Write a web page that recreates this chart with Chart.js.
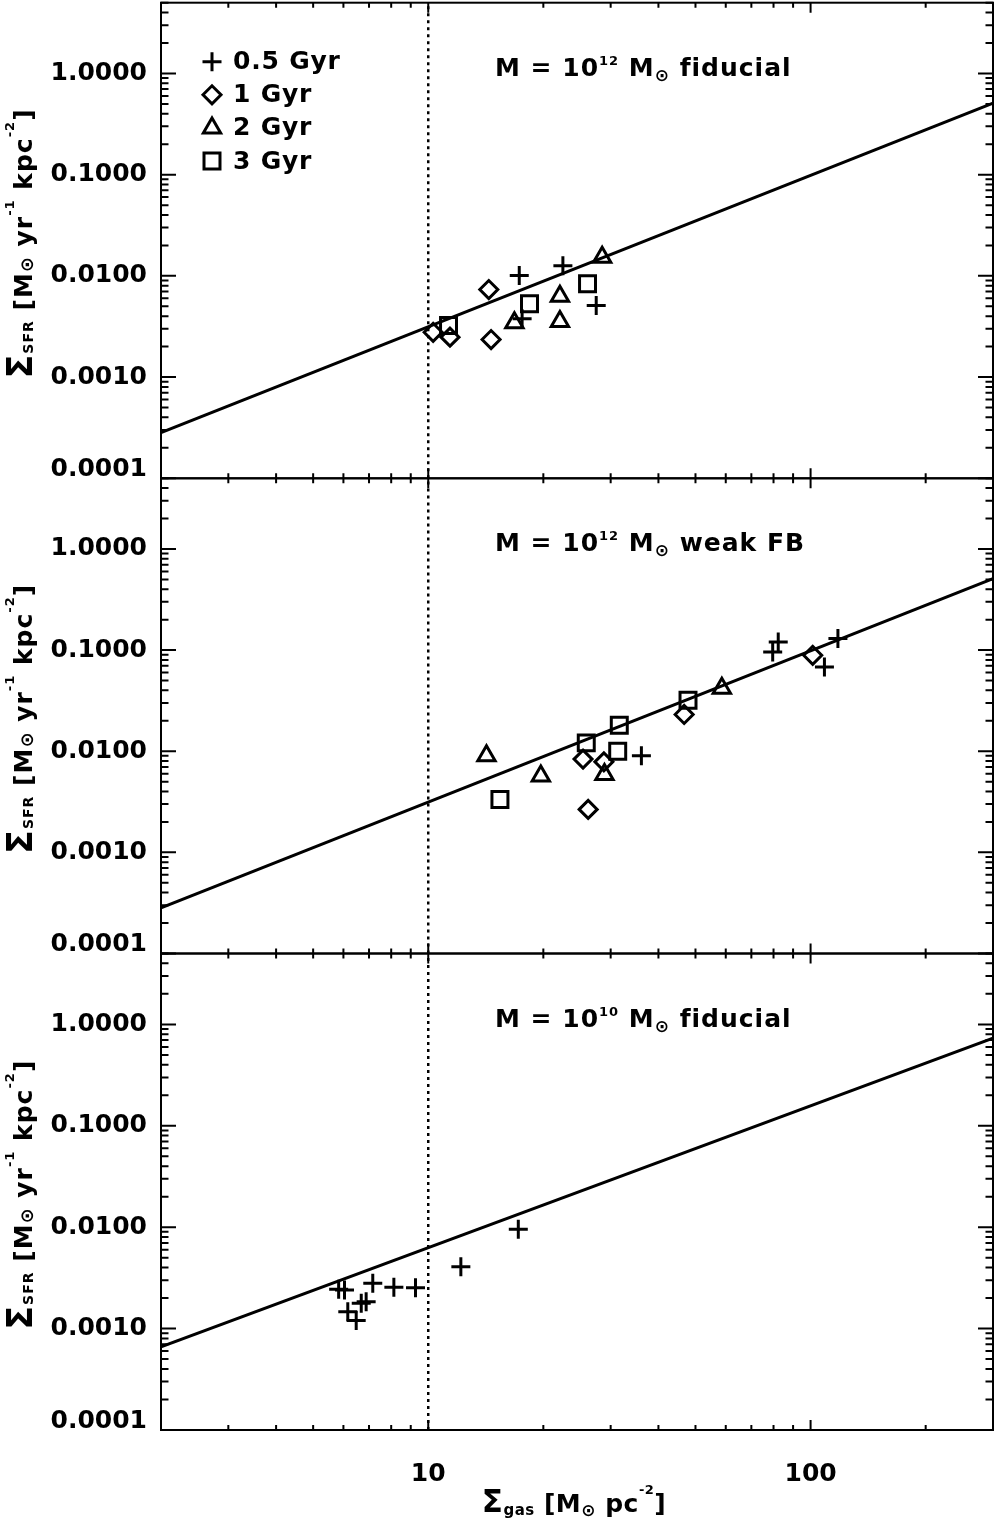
<!DOCTYPE html>
<html><head><meta charset="utf-8">
<script src="https://cdn.jsdelivr.net/npm/chart.js@4.4.1/dist/chart.umd.min.js"></script>
<style>
html,body{margin:0;padding:0;background:#fff;}
#wrap{position:relative;width:998px;height:1523px;overflow:hidden;background:#fff}
canvas{position:absolute;left:0;top:0}
</style></head><body><div id="wrap">
<canvas id="c1" width="998" height="1523"></canvas>
<canvas id="c2" width="998" height="1523"></canvas>
<canvas id="c3" width="998" height="1523"></canvas>
</div>
<script>
// ---------- axis setup ----------
const xMin = 2, xMax = 300;
const yMin = 1e-4, yMax = 5;
const yTickValues = [1e-4, 1e-3, 1e-2, 1e-1, 1];
const yTickLabels = ['0.0001', '0.0010', '0.0100', '0.1000', '1.0000'];
const xTickValues = [10, 100];
const xTickLabels = ['10', '100'];
const ageLabels = ['0.5 Gyr', '1 Gyr', '2 Gyr', '3 Gyr'];
const gasThreshold = 10;
const panelMassExp = ['12', '12', '10'];
const panelModel = ['fiducial', 'weak FB', 'fiducial'];

// ---------- panel 1 : M = 10^12 fiducial ----------
const p1Gas05 = [17.3, 17.6, 22.5, 27.5];
const p1Sfr05 = [0.0101, 0.00376, 0.0126, 0.0051];
const p1Gas1 = [10.3, 11.4, 14.4, 14.6];
const p1Sfr1 = [0.00277, 0.00248, 0.00733, 0.00235];
const p1Gas2 = [16.8, 22.1, 22.1, 28.5];
const p1Sfr2 = [0.00344, 0.00629, 0.00354, 0.0153];
const p1Gas3 = [11.3, 18.4, 26.1];
const p1Sfr3 = [0.00323, 0.0053, 0.00834];
const p1LineGas = [2, 300];
const p1LineSfr = [2.82e-4, 0.51];

// ---------- panel 2 : M = 10^12 weak FB ----------
const p2Gas05 = [36.1, 79.6, 82.3, 108.7, 117.9];
const p2Sfr05 = [0.0090, 0.0958, 0.120, 0.068, 0.130];
const p2Gas1 = [25.4, 26.2, 28.8, 46.7, 101.3];
const p2Sfr1 = [0.00836, 0.00266, 0.00786, 0.0231, 0.0889];
const p2Gas2 = [14.2, 19.7, 28.9, 58.6];
const p2Sfr2 = [0.00901, 0.00568, 0.0059, 0.042];
const p2Gas3 = [15.4, 25.9, 31.3, 31.6, 47.8];
const p2Sfr3 = [0.00334, 0.0121, 0.0100, 0.0181, 0.0319];
const p2LineGas = [2, 300];
const p2LineSfr = [2.82e-4, 0.51];

// ---------- panel 3 : M = 10^10 fiducial ----------
const p3Gas05 = [5.83, 6.04, 6.16, 6.48, 6.68, 6.88, 7.16, 8.13, 9.26, 12.17, 17.2];
const p3Sfr05 = [0.00244, 0.0024, 0.00147, 0.0012, 0.00178, 0.00184, 0.0028, 0.00255, 0.00253, 0.00408, 0.00953];
const p3LineGas = [2, 300];
const p3LineSfr = [6.6e-4, 0.73];

const FONT = 'DejaVu Sans';
const markerStyles = [
  {pointStyle: 'cross', pointRadius: 9.5},
  {pointStyle: 'rectRot', pointRadius: 9},
  {pointStyle: 'triangle', pointRadius: 10},
  {pointStyle: 'rect', pointRadius: 11.3}
];

function pts(xs, ys) { return xs.map((v, i) => ({x: v, y: ys[i]})); }
function scatterSet(ageIdx, xs, ys) {
  const st = markerStyles[ageIdx];
  return {label: ageLabels[ageIdx], data: pts(xs, ys), pointStyle: st.pointStyle, pointRadius: st.pointRadius,
    borderColor: '#000', backgroundColor: 'rgba(0,0,0,0)', borderWidth: 3, pointBorderWidth: 3, showLine: false};
}
function lineSet(xs, ys) {
  return {label: '', data: pts(xs, ys), showLine: true, borderColor: '#000', borderWidth: 3, pointRadius: 0, fill: false};
}
function thresholdSet() {
  return {label: '', data: pts([gasThreshold, gasThreshold], [yMin, yMax]), showLine: true, borderColor: '#000',
    borderWidth: 2.5, borderDash: [3, 4], pointRadius: 0, fill: false};
}

// rich text: segments {t, s, dy}
function fontStr(s) { return 'bold ' + s + 'px "' + FONT + '"'; }
function richWidth(ctx, segs, ls) {
  let w = 0;
  segs.forEach(g => { ctx.font = fontStr(g.s); ctx.letterSpacing = ls + 'px'; w += ctx.measureText(g.t).width; });
  return w;
}
function drawRich(ctx, segs, x, y, align, ls) {
  const w = richWidth(ctx, segs, ls);
  let cx = align === 'center' ? x - w / 2 : x;
  ctx.textBaseline = 'alphabetic'; ctx.textAlign = 'left'; ctx.fillStyle = '#000';
  segs.forEach(g => {
    ctx.font = fontStr(g.s);
    ctx.letterSpacing = ls + 'px';
    ctx.fillText(g.t, cx, y + (g.dy || 0));
    cx += ctx.measureText(g.t).width;
  });
}

const yTitleSegs = [
  {t: 'Σ', s: 35}, {t: 'SFR', s: 14, dy: 1}, {t: ' [M', s: 25}, {t: '⊙', s: 18, dy: 1},
  {t: ' yr', s: 25}, {t: '-1', s: 13, dy: -18}, {t: ' kpc', s: 25}, {t: '-2', s: 13, dy: -18}, {t: ']', s: 25}
];
const xTitleSegs = [
  {t: 'Σ', s: 31}, {t: 'gas', s: 15, dy: 3}, {t: ' [M', s: 25}, {t: '⊙', s: 17, dy: 4},
  {t: ' pc', s: 25}, {t: '-2', s: 13, dy: -18}, {t: ']', s: 25}
];

const framePlugin = {
  id: 'frame',
  beforeDatasetsDraw(chart) {
    const {ctx, chartArea: a, scales: {x, y}} = chart;
    ctx.save();
    ctx.strokeStyle = '#000'; ctx.lineWidth = 2; ctx.lineCap = 'butt';
    ctx.strokeRect(a.left, a.top, a.right - a.left, a.bottom - a.top);
    ctx.beginPath();
    for (let d = -4; d <= 0; d++) for (let m = 1; m <= 9; m++) {
      const v = m * Math.pow(10, d);
      if (v < yMin * 0.999 || v > yMax * 1.001) continue;
      const py = y.getPixelForValue(v);
      const L = m === 1 ? 15 : 7.5;
      ctx.moveTo(a.left, py); ctx.lineTo(a.left + L, py);
      ctx.moveTo(a.right, py); ctx.lineTo(a.right - L, py);
    }
    for (let d = 0; d <= 2; d++) for (let m = 1; m <= 9; m++) {
      const v = m * Math.pow(10, d);
      if (v < xMin * 0.999 || v > xMax * 1.001) continue;
      const px = x.getPixelForValue(v);
      const L = m === 1 ? 10 : 5;
      ctx.moveTo(px, a.bottom); ctx.lineTo(px, a.bottom - L);
      ctx.moveTo(px, a.top); ctx.lineTo(px, a.top + L);
    }
    ctx.stroke();
    ctx.restore();
  },
  afterDraw(chart, args, opts) {
    const {ctx, chartArea: a} = chart;
    ctx.save();
    // panel annotation
    const segs = [
      {t: 'M = 10', s: 25}, {t: panelMassExp[opts.panel], s: 13, dy: -11},
      {t: ' M', s: 25}, {t: '⊙', s: 17, dy: 5}, {t: ' ' + panelModel[opts.panel], s: 25}
    ];
    drawRich(ctx, segs, a.left + 334, a.top + 73, 'left', 1);
    // y title
    ctx.save();
    ctx.translate(32, (a.top + a.bottom) / 2 + 3);
    ctx.rotate(-Math.PI / 2);
    drawRich(ctx, yTitleSegs, 0, 0, 'center', 1);
    ctx.restore();
    // x title
    if (opts.xTitle) {
      drawRich(ctx, xTitleSegs, (a.left + a.right) / 2 - 3, 1512, 'center', 0.5);
    }
    // legend
    if (opts.legend) {
      let row = 0;
      chart.data.datasets.forEach(ds => {
        if (!ds.label) return;
        const cy = a.top + 59 + row * 33.1;
        const cx = a.left + 51;
        ctx.strokeStyle = '#000'; ctx.fillStyle = 'rgba(0,0,0,0)'; ctx.lineWidth = 3;
        Chart.helpers.drawPoint(ctx, {pointStyle: ds.pointStyle, radius: ds.pointRadius, rotation: 0, borderWidth: 3}, cx, cy);
        ctx.fillStyle = '#000';
        ctx.font = fontStr(25);
        ctx.letterSpacing = '0.8px';
        ctx.textBaseline = 'middle'; ctx.textAlign = 'left';
        ctx.fillText(ds.label, a.left + 72, cy + 1);
        row++;
      });
    }
    ctx.restore();
  }
};

function makeChart(id, panel, datasets, padTop, padBottom, showX, legend) {
  return new Chart(document.getElementById(id), {
    type: 'scatter',
    data: {datasets},
    options: {
      responsive: false, animation: false, events: [], devicePixelRatio: 1,
      layout: {autoPadding: false, padding: {left: 0, right: 5, top: padTop, bottom: padBottom}},
      plugins: {legend: {display: false}, tooltip: {enabled: false},
        frame: {panel: panel, legend: legend, xTitle: showX}},
      scales: {
        x: {
          type: 'logarithmic', min: xMin, max: xMax, display: showX,
          afterBuildTicks: s => { s.ticks = xTickValues.map(v => ({value: v})); },
          ticks: {callback: (v, i) => xTickLabels[i], font: {family: FONT, size: 25, weight: 'bold'}, color: '#000', padding: 29, autoSkip: false, maxRotation: 0, minRotation: 0},
          grid: {display: false, drawTicks: false}, border: {display: false},
          title: {display: false},
          afterFit: s => { s.height = showX ? 93 : 0; s.paddingLeft = 0; s.paddingRight = 0; }
        },
        y: {
          type: 'logarithmic', min: yMin, max: yMax,
          afterBuildTicks: s => { s.ticks = yTickValues.map(v => ({value: v})); },
          ticks: {
            // lowest label sits raised above the panel floor, as in the original
            callback: (v, i) => (i === 0 ? [yTickLabels[i], ''] : yTickLabels[i]),
            font: {family: FONT, size: 25, weight: 'bold', lineHeight: 0.72}, color: '#000', padding: 14, autoSkip: false
          },
          grid: {display: false, drawTicks: false}, border: {display: false},
          afterFit: s => { s.width = 161; s.paddingTop = 0; s.paddingBottom = 0; }
        }
      }
    },
    plugins: [framePlugin]
  });
}

makeChart('c1', 0, [
  thresholdSet(), lineSet(p1LineGas, p1LineSfr),
  scatterSet(0, p1Gas05, p1Sfr05), scatterSet(1, p1Gas1, p1Sfr1),
  scatterSet(2, p1Gas2, p1Sfr2), scatterSet(3, p1Gas3, p1Sfr3)
], 2.7, 1523 - 478.3, false, true);

makeChart('c2', 1, [
  thresholdSet(), lineSet(p2LineGas, p2LineSfr),
  scatterSet(0, p2Gas05, p2Sfr05), scatterSet(1, p2Gas1, p2Sfr1),
  scatterSet(2, p2Gas2, p2Sfr2), scatterSet(3, p2Gas3, p2Sfr3)
], 478.3, 1523 - 953.5, false, false);

makeChart('c3', 2, [
  thresholdSet(), lineSet(p3LineGas, p3LineSfr),
  scatterSet(0, p3Gas05, p3Sfr05)
], 953.5, 0, true, false);
</script>
</body></html>
